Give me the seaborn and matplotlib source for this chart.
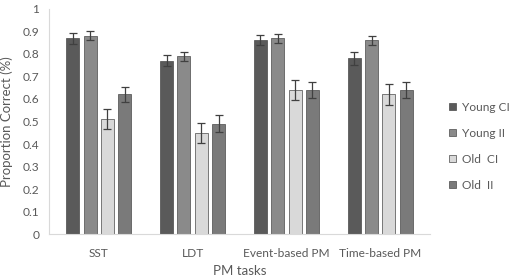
import pandas as pd
import matplotlib
matplotlib.use('Agg')
import matplotlib.pyplot as plt
import seaborn as sns

tasks = ['SST', 'LDT', 'Event-based PM', 'Time-based PM']
groups = ['Young CI', 'Young II', 'Old  CI', 'Old  II']
means = {
    'Young CI': [0.87, 0.77, 0.86, 0.78],
    'Young II': [0.88, 0.79, 0.87, 0.86],
    'Old  CI': [0.51, 0.45, 0.64, 0.62],
    'Old  II': [0.62, 0.49, 0.64, 0.64],
}
errors = {
    'Young CI': [0.025, 0.025, 0.022, 0.027],
    'Young II': [0.02, 0.02, 0.02, 0.018],
    'Old  CI': [0.045, 0.045, 0.045, 0.045],
    'Old  II': [0.035, 0.037, 0.035, 0.035],
}
colors = ['#5a5a5a', '#8a8a8a', '#d9d9d9', '#7a7a7a']


def main():
    rows = []
    for g in groups:
        for t, m in zip(tasks, means[g]):
            rows.append({'task': t, 'group': g, 'value': m})
    df = pd.DataFrame(rows)

    sns.set_style('white')
    plt.rcParams['font.family'] = ['Lato', 'DejaVu Sans']
    txt = '#595959'

    fig, ax = plt.subplots(figsize=(5.09, 2.79), dpi=100)
    fig.subplots_adjust(left=0.096, right=0.845, top=0.968, bottom=0.161)

    sns.barplot(data=df, x='task', y='value', hue='group', order=tasks,
                hue_order=groups, palette=colors, errorbar=None,
                width=0.74, gap=0.25, edgecolor='#4a4a4a', linewidth=0.5,
                ax=ax)

    # error bars on each bar
    for cont, g in zip(ax.containers, groups):
        xs = [b.get_x() + b.get_width() / 2 for b in cont]
        ax.errorbar(xs, means[g], yerr=errors[g], fmt='none',
                    ecolor='#404040', elinewidth=0.9, capsize=2.6,
                    capthick=0.9)

    ax.set_ylim(0, 1)
    ax.set_yticks([i / 10 for i in range(11)])
    ax.set_yticklabels(['0'] + [f'{i / 10:.1f}' for i in range(1, 10)] + ['1'])
    ax.tick_params(axis='both', length=0, labelsize=8.6, colors=txt, pad=7)
    ax.tick_params(axis='x', pad=10)
    ax.set_xlabel('PM tasks', fontsize=9.5, color=txt, labelpad=4)
    ax.set_ylabel('Proportion Correct (%)', fontsize=9.5, color=txt, labelpad=7)

    for s in ['top', 'right']:
        ax.spines[s].set_visible(False)
    for s in ['left', 'bottom']:
        ax.spines[s].set_color('#d9d9d9')
        ax.spines[s].set_linewidth(0.8)

    handles, labels = ax.get_legend_handles_labels()
    ax.legend(handles, labels, loc='center left', bbox_to_anchor=(1.05, 0.39),
              frameon=False, fontsize=8.6, labelcolor=txt, handlelength=0.6,
              handleheight=0.6, handletextpad=0.45, labelspacing=1.25,
              borderpad=0, borderaxespad=0)

    plt.savefig('out.png', dpi=100)


if __name__ == '__main__':
    main()
